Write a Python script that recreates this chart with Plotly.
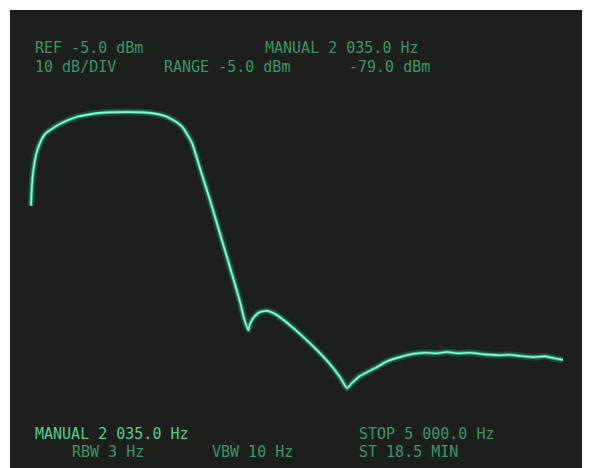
import plotly.graph_objects as go

# Trace (frequency in Hz, level in dBm)
freq_hz = [0, 9, 19, 47, 84, 131, 178, 272, 431, 646, 927, 1114, 1255, 1330, 1386,
           1423, 1461, 1508, 1582, 1676, 1770, 1891, 1957, 1994, 2035, 2051, 2097,
           2144, 2210, 2285, 2378, 2519, 2659, 2800, 2893, 2959, 3006, 3081, 3221,
           3340, 3455, 3570, 3689, 3790, 3895, 4000, 4110, 4250, 4391, 4480, 4579,
           4700, 4813, 4900, 4981]
level_dbm = [-47.3, -42.0, -38.9, -34.3, -31.3, -29.0, -28.0, -26.4, -24.6, -23.6,
             -23.4, -23.6, -24.4, -25.4, -26.4, -27.4, -29.0, -31.3, -37.7, -45.8,
             -54.5, -65.5, -71.8, -75.9, -79.0, -77.4, -75.4, -74.4, -74.1, -74.9,
             -76.7, -80.0, -83.6, -87.7, -91.0, -93.8, -92.5, -90.7, -88.7, -86.9,
             -85.9, -85.1, -84.8, -84.9, -84.6, -84.9, -84.8, -85.2, -85.4, -85.3,
             -85.6, -85.9, -85.7, -86.2, -86.6]

top_left = ["REF -5.0 dBm", "10 dB/DIV"]
top_mid = ["MANUAL 2 035.0 Hz", "RANGE -5.0 dBm", "-79.0 dBm"]
bottom = ["MANUAL 2 035.0 Hz", "RBW 3 Hz", "VBW 10 Hz", "STOP 5 000.0 Hz", "ST 18.5 MIN"]

# page is offset 8px by the body margin
W, H = 582, 460
PL, PT = 10, 10      # plot area top-left in page pixels
PW, PH = 580, 458    # plot area size

def px(x):
    return (x - PL) / PW

def py(y):
    return 1 - (y - PT) / PH

fig = go.Figure()
fig.add_trace(go.Scatter(x=freq_hz, y=level_dbm, mode="lines",
                         line=dict(color="rgba(40,220,160,0.20)", width=7, shape="spline", smoothing=0.5),
                         hoverinfo="skip", showlegend=False))
fig.add_trace(go.Scatter(x=freq_hz, y=level_dbm, mode="lines",
                         line=dict(color="rgba(50,230,170,0.55)", width=3.5, shape="spline", smoothing=0.5),
                         hoverinfo="skip", showlegend=False))
fig.add_trace(go.Scatter(x=freq_hz, y=level_dbm, mode="lines",
                         line=dict(color="#8ff7d6", width=1.6, shape="spline", smoothing=0.5),
                         showlegend=False))

dim = "#3c9468"
font = "DejaVu Sans Mono, monospace"
ann = []
def add(text, x, y, color=dim, size=15):
    ann.append(dict(text=text, x=px(x), y=py(y), xref="paper", yref="paper",
                    xanchor="left", yanchor="middle", showarrow=False,
                    font=dict(family=font, size=size, color=color)))

add(top_left[0], 33, 48)
add(top_mid[0], 263, 48)
add(top_left[1], 33, 67)
add(top_mid[1], 162, 67)
add(top_mid[2], 347, 67)
add(bottom[0], 33, 434, color="#4fcf8c")
add(bottom[1], 70, 452)
add(bottom[2], 210, 452)
add(bottom[3], 357, 434)
add(bottom[4], 357, 452)

fig.update_layout(
    width=W, height=H,
    margin=dict(l=2, r=0, t=2, b=0),
    paper_bgcolor="white",
    plot_bgcolor="#1d1f1d",
    xaxis=dict(range=[-196.6, 5234], visible=False, fixedrange=True),
    yaxis=dict(range=[-114.18, 2.65], visible=False, fixedrange=True),
    annotations=ann,
    showlegend=False,
)

fig.write_html("out.html")
